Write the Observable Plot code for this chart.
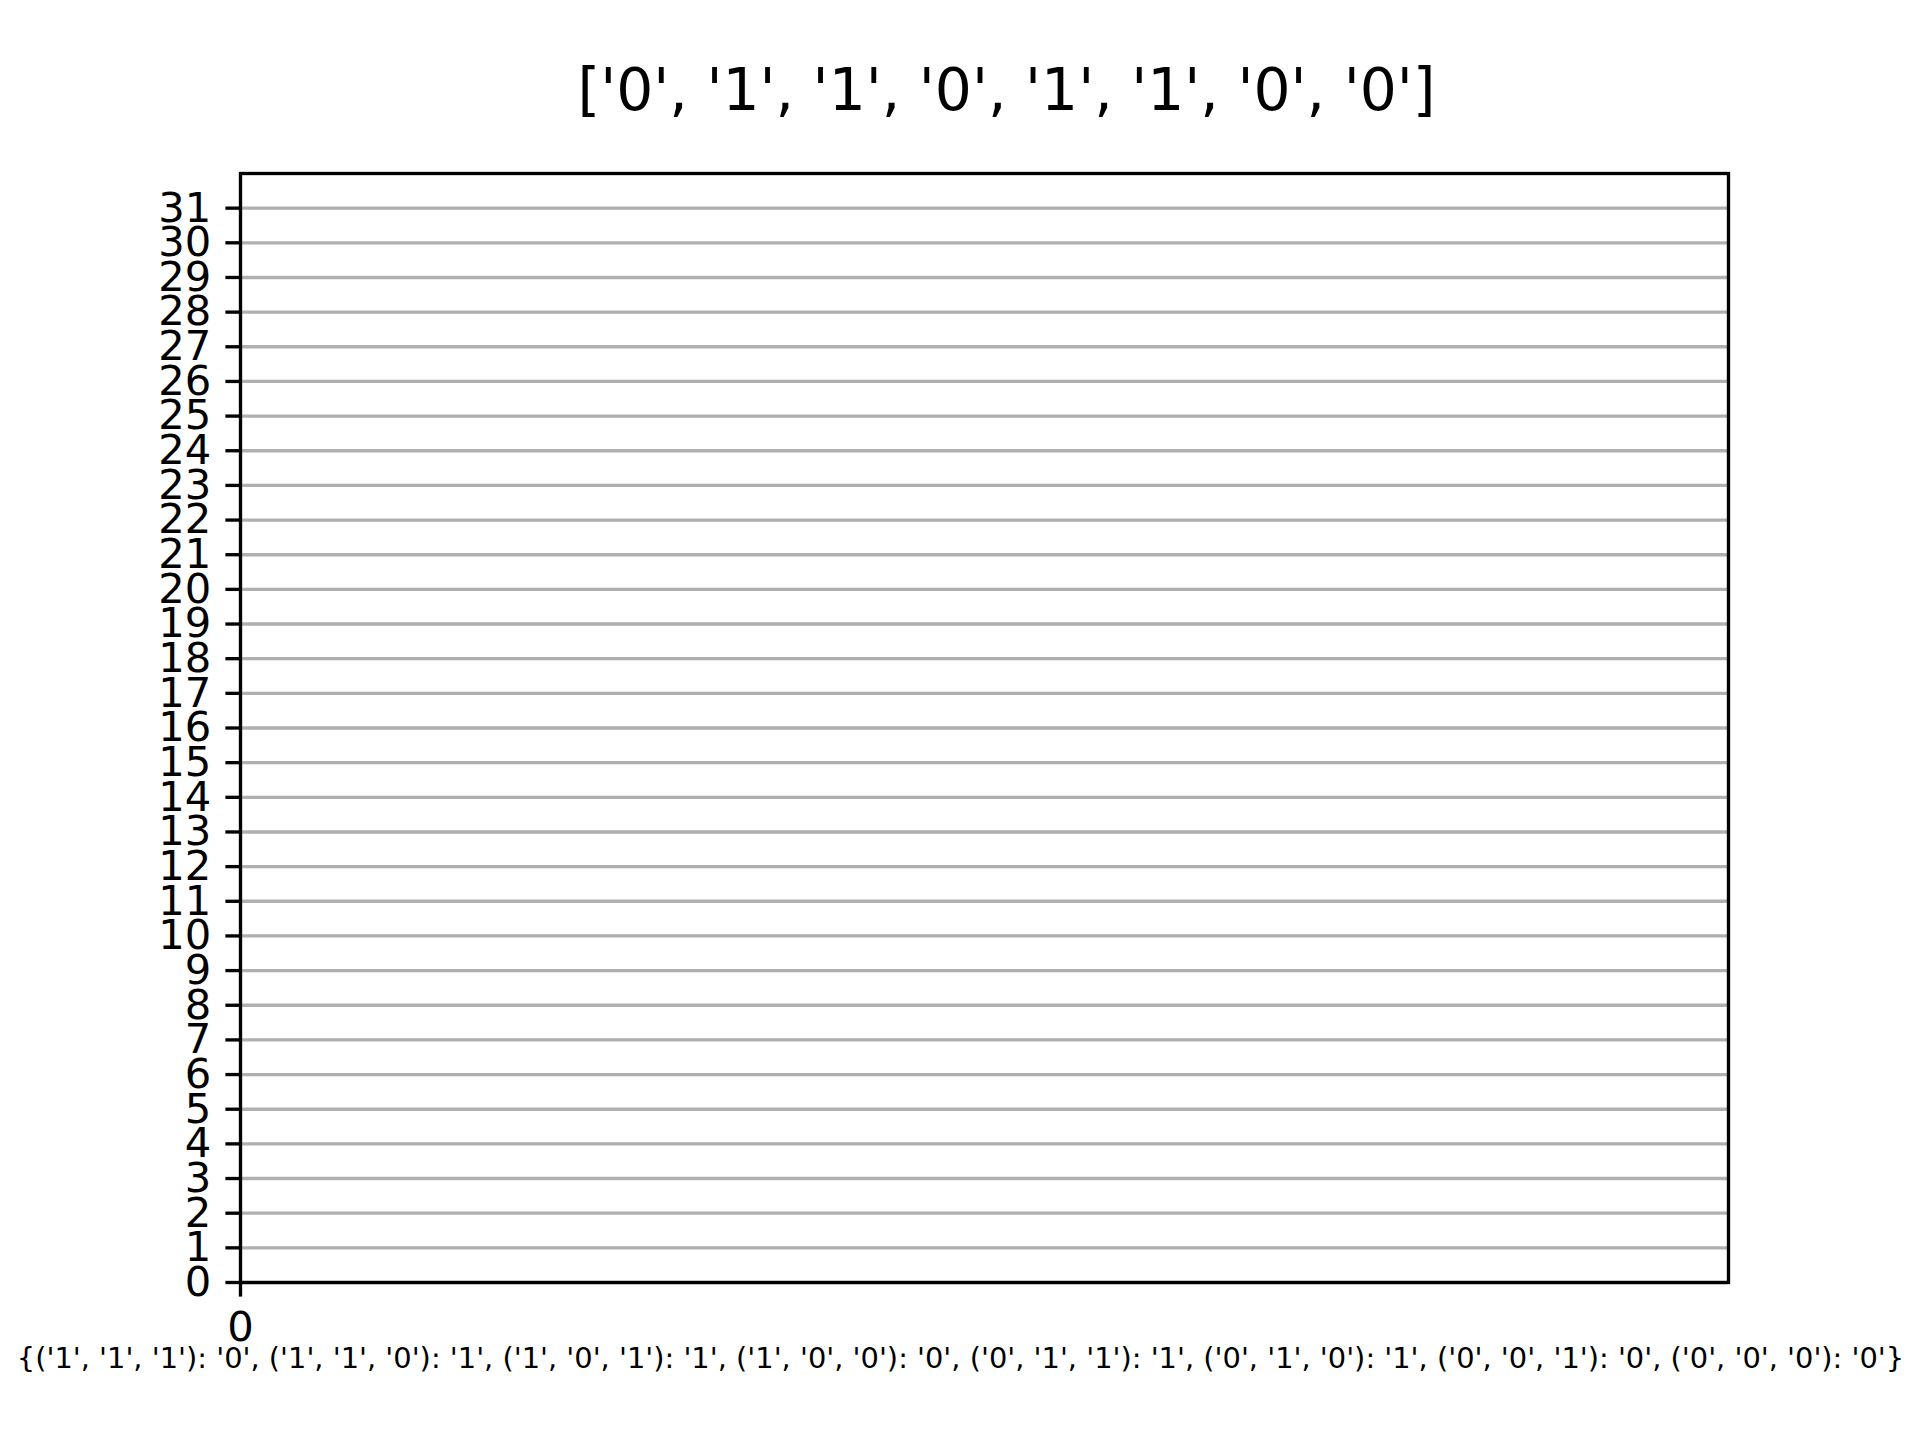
<!DOCTYPE html>
<html>
<head>
<meta charset="utf-8">
<script src="https://cdn.jsdelivr.net/npm/d3@7"></script>
<script src="https://cdn.jsdelivr.net/npm/@observablehq/plot@0.6"></script>
<style>
  html, body { margin: 0; padding: 0; background: white; }
  svg { display: block; }
</style>
</head>
<body>
<div id="chart"></div>
<script>
// Rule outputs (title) and the neighbourhood -> output table (caption)
const ruleBits = ["0", "1", "1", "0", "1", "1", "0", "0"];
const neighbourhoods = [
  ["1", "1", "1"], ["1", "1", "0"], ["1", "0", "1"], ["1", "0", "0"],
  ["0", "1", "1"], ["0", "1", "0"], ["0", "0", "1"], ["0", "0", "0"]
];
const outputs = ["0", "1", "1", "0", "1", "1", "0", "0"];
// Tick labels
const yTicks = [0, 1, 2, 3, 4, 5, 6, 7, 8, 9, 10, 11, 12, 13, 14, 15,
                16, 17, 18, 19, 20, 21, 22, 23, 24, 25, 26, 27, 28, 29, 30, 31];
const xTicks = [0];
const yDomain = [0, 32];
const xDomain = [0, 1];

const q = s => "'" + s + "'";
const titleText = "[" + ruleBits.map(q).join(", ") + "]";
const captionText = "{" + neighbourhoods.map((n, i) =>
  "(" + n.map(q).join(", ") + "): " + q(outputs[i])).join(", ") + "}";

const lw = 3.33;
const chart = Plot.plot({
  width: 1920,
  height: 1440,
  marginLeft: 240,
  marginRight: 192,
  marginTop: 173,
  marginBottom: 158,
  style: { fontFamily: "DejaVu Sans", background: "white", color: "black", overflow: "visible" },
  x: { domain: xDomain },
  y: { domain: yDomain },
  marks: [
    Plot.ruleY(yTicks, { stroke: "#b0b0b0", strokeWidth: lw }),
    Plot.frame({ stroke: "black", strokeWidth: lw }),
    Plot.axisY({ ticks: yTicks, tickSize: 14.6, tickPadding: 14.6, fontSize: 41.7,
                 stroke: "black", strokeWidth: lw, fill: "black", label: null, tickFormat: d => String(d) }),
    Plot.axisX({ ticks: xTicks, tickSize: 14.6, tickPadding: 14.6, fontSize: 41.7,
                 stroke: "black", strokeWidth: lw, fill: "black", label: null, tickFormat: d => String(d) }),
    Plot.text([titleText], { text: d => d, frameAnchor: "top", lineAnchor: "middle",
                 dx: 22, dy: -82, fontSize: 58.3, fill: "black" }),
    Plot.text([captionText], { text: d => d, frameAnchor: "bottom", lineAnchor: "middle",
                 dx: -24, dy: 76, fontSize: 28.9, fill: "black" })
  ]
});
document.getElementById("chart").appendChild(chart);
</script>
</body>
</html>
